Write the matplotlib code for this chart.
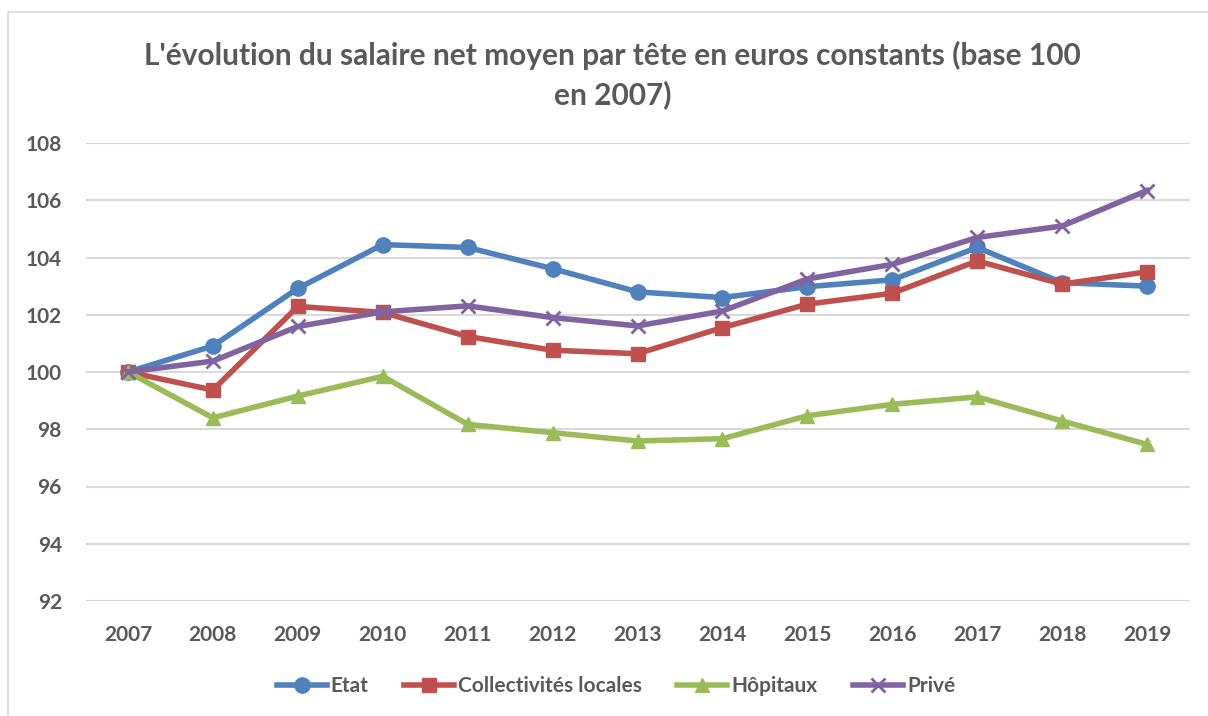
import matplotlib
matplotlib.use("Agg")
import matplotlib.pyplot as plt
from matplotlib.patches import Rectangle

# valeurs (base 100 en 2007)
annees = ["2007", "2008", "2009", "2010", "2011", "2012", "2013",
          "2014", "2015", "2016", "2017", "2018", "2019"]
etat = [100, 100.91, 102.92, 104.45, 104.35, 103.61, 102.80,
        102.60, 102.98, 103.22, 104.35, 103.12, 103.0]
collectivites = [100, 99.37, 102.29, 102.08, 101.24, 100.76, 100.64,
                 101.55, 102.37, 102.75, 103.88, 103.07, 103.5]
hopitaux = [100, 98.40, 99.16, 99.85, 98.17, 97.88, 97.59,
            97.67, 98.47, 98.87, 99.13, 98.29, 97.47]
prive = [100, 100.38, 101.59, 102.10, 102.31, 101.90, 101.61,
         102.13, 103.25, 103.76, 104.70, 105.10, 106.34]
y_ticks = [92, 94, 96, 98, 100, 102, 104, 106, 108]

plt.rcParams["font.family"] = ["Lato", "DejaVu Sans"]
gris = "#595959"

fig = plt.figure(figsize=(12.08, 7.16), dpi=100)
fig.patches.append(Rectangle((8 / 1208, -0.01), 1.02, (716 - 12) / 716 + 0.01,
                             transform=fig.transFigure, fill=False,
                             edgecolor="#d9d9d9", lw=1.2))
ax = fig.add_axes([85.5 / 1208, 115 / 716, 1104 / 1208, 458 / 716])

x = range(len(annees))
series = [
    ("Etat", etat, "#4F81BD", "o", 11),
    ("Collectivités locales", collectivites, "#C0504D", "s", 10),
    ("Hôpitaux", hopitaux, "#9BBB59", "^", 10),
    ("Privé", prive, "#8064A2", "x", 10),
]
for nom, vals, c, m, ms in series:
    ax.plot(x, vals, color=c, lw=4, marker=m, ms=ms, mew=2 if m == "x" else 1,
            mec=c, mfc=c, label=nom, solid_joinstyle="round")

ax.set_xlim(-0.5, len(annees) - 0.5)
ax.set_ylim(92, 108)
ax.set_yticks(y_ticks)
ax.set_xticks(list(x))
ax.set_xticklabels(annees)
ax.grid(axis="y", color="#d9d9d9", lw=1.5)
ax.set_axisbelow(True)
for s in ax.spines.values():
    s.set_visible(False)
ax.tick_params(length=0, labelsize=15, labelcolor=gris)
ax.tick_params(axis="x", pad=17)
ax.tick_params(axis="y", pad=17)
for lab in ax.get_xticklabels() + ax.get_yticklabels():
    lab.set_fontweight("bold")

fig.text(0.507, 1 - 75 / 716,
         "L'évolution du salaire net moyen par tête en euros constants (base 100\nen 2007)",
         ha="center", va="center", fontsize=21.5, fontweight="bold", color=gris,
         linespacing=1.4)

leg = fig.legend(loc="center", bbox_to_anchor=(0.51, 1 - 686 / 716), ncol=4,
                 frameon=False, fontsize=15, handlelength=2.4, columnspacing=1.7,
                 handletextpad=0.2)
for t in leg.get_texts():
    t.set_color(gris)
    t.set_fontweight("bold")

fig.savefig("out.png", dpi=100)
